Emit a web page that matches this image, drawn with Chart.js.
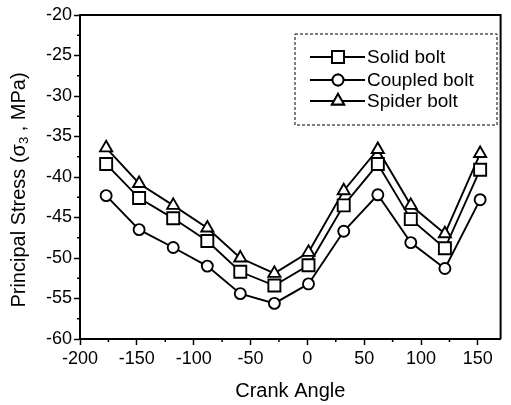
<!DOCTYPE html>
<html>
<head>
<meta charset="utf-8">
<script src="https://cdn.jsdelivr.net/npm/chart.js@4"></script>
<style>
  html, body { margin: 0; padding: 0; background: #fff; }
  #chartContainer { width: 511px; height: 405px; }
</style>
</head>
<body>
<div id="chartContainer"><canvas id="chartData"></canvas></div>
<script>
// data
const crankAngles = [-177, -148, -118, -88, -59, -29, 1, 32, 62, 91, 121, 152];
const solidBolt   = [-38.4, -42.6, -45.1, -47.9, -51.7, -53.4, -50.9, -43.5, -38.4, -45.2, -48.8, -39.1];
const coupledBolt = [-42.3, -46.5, -48.7, -51.0, -54.4, -55.6, -53.2, -46.7, -42.2, -48.1, -51.3, -42.8];
const spiderBolt  = [-36.4, -40.8, -43.5, -46.3, -50.0, -51.9, -49.3, -41.7, -36.6, -43.5, -47.0, -37.1];
const seriesNames = ['Solid bolt', 'Coupled bolt', 'Spider bolt'];
const xTicks = [-200, -150, -100, -50, 0, 50, 100, 150];
const yTicks = [-60, -55, -50, -45, -40, -35, -30, -25, -20];
const xMinorTicks = [-175, -125, -75, -25, 25, 75, 125];
const yMinorTicks = [-57.5, -52.5, -47.5, -42.5, -37.5, -32.5, -27.5, -22.5];

const FONT = '"Liberation Sans", Arial, Helvetica, sans-serif';
const LW = 1.9;
const markers = [
  { style: 'rect', radius: 8.5 },
  { style: 'circle', radius: 5.5 },
  { style: 'triangle', radius: 7 },
];

const toPoints = ys => crankAngles.map((x, i) => ({ x: x, y: ys[i] }));

const makeSet = (label, ys, m) => ({
  label: label,
  data: toPoints(ys),
  borderColor: '#000',
  borderWidth: LW,
  pointStyle: m.style,
  pointRadius: m.radius,
  pointHoverRadius: m.radius,
  pointBackgroundColor: '#fff',
  pointBorderColor: '#000',
  pointBorderWidth: LW,
  fill: false,
  tension: 0,
});

// frame, minor ticks, y title, legend
const extras = {
  id: 'extras',
  afterDraw(chart) {
    const ctx = chart.ctx;
    const a = chart.chartArea;
    const xs = chart.scales.x, ys = chart.scales.y;
    ctx.save();
    ctx.strokeStyle = '#000';

    // top/right frame
    ctx.lineWidth = 2;
    ctx.beginPath();
    ctx.moveTo(a.left, a.top);
    ctx.lineTo(a.right, a.top);
    ctx.lineTo(a.right, a.bottom);
    ctx.stroke();

    // minor ticks
    ctx.lineWidth = 1.5;
    ctx.beginPath();
    xMinorTicks.forEach(v => {
      const px = xs.getPixelForValue(v);
      ctx.moveTo(px, a.bottom);
      ctx.lineTo(px, a.bottom + 3);
    });
    yMinorTicks.forEach(v => {
      const py = ys.getPixelForValue(v);
      ctx.moveTo(a.left, py);
      ctx.lineTo(a.left - 3, py);
    });
    ctx.stroke();

    // y axis title with subscript
    ctx.fillStyle = '#000';
    ctx.translate(19, 190);
    ctx.rotate(-Math.PI / 2);
    ctx.textBaseline = 'middle';
    ctx.textAlign = 'left';
    const p1 = 'Principal Stress (\u03c3', p2 = '3', p3 = ' , MPa)';
    ctx.font = '20px ' + FONT;
    const w1 = ctx.measureText(p1).width, w3 = ctx.measureText(p3).width;
    ctx.font = '13px ' + FONT;
    const w2 = ctx.measureText(p2).width;
    let x0 = -(w1 + w2 + w3) / 2;
    ctx.font = '20px ' + FONT;
    ctx.fillText(p1, x0, 0);
    ctx.font = '13px ' + FONT;
    ctx.fillText(p2, x0 + w1, 5);
    ctx.font = '20px ' + FONT;
    ctx.fillText(p3, x0 + w1 + w2, 0);
    ctx.setTransform(1, 0, 0, 1, 0, 0);

    // legend
    const box = { left: 295, top: 34, right: 497, bottom: 125 };
    ctx.lineWidth = 1;
    ctx.setLineDash([3, 2]);
    ctx.strokeRect(box.left, box.top, box.right - box.left, box.bottom - box.top);
    ctx.setLineDash([]);
    const rows = [57, 80, 101];
    chart.data.datasets.forEach((ds, i) => {
      const y = rows[i];
      ctx.lineWidth = LW;
      ctx.beginPath();
      ctx.moveTo(310, y);
      ctx.lineTo(365, y);
      ctx.stroke();
      ctx.fillStyle = '#fff';
      Chart.helpers.drawPoint(ctx, {
        pointStyle: ds.pointStyle,
        radius: ds.pointRadius,
        borderWidth: LW,
      }, 338, y);
      ctx.fill();
      ctx.stroke();
      ctx.fillStyle = '#000';
      ctx.font = '19px ' + FONT;
      ctx.textAlign = 'left';
      ctx.textBaseline = 'middle';
      ctx.fillText(ds.label, 367, y + 1);
    });
    ctx.restore();
  }
};

new Chart(document.getElementById('chartData'), {
  type: 'line',
  data: {
    datasets: [
      makeSet(seriesNames[0], solidBolt, markers[0]),
      makeSet(seriesNames[1], coupledBolt, markers[1]),
      makeSet(seriesNames[2], spiderBolt, markers[2]),
    ],
  },
  options: {
    responsive: true,
    maintainAspectRatio: false,
    animation: false,
    events: [],
    layout: { padding: { top: 15, right: 3, left: 0, bottom: 0 } },
    plugins: { legend: { display: false }, tooltip: { enabled: false } },
    scales: {
      x: {
        type: 'linear',
        min: -200,
        max: 170,
        afterBuildTicks: s => { s.ticks = xTicks.map(v => ({ value: v })); },
        afterFit: s => { s.height = 66; },
        border: { display: true, color: '#000', width: 2 },
        grid: { drawOnChartArea: false, drawTicks: true, tickLength: 6, tickWidth: 1.5, tickColor: '#000' },
        ticks: { color: '#000', font: { family: FONT, size: 18 }, padding: 3, maxRotation: 0 },
        title: {
          display: true,
          text: 'Crank Angle',
          color: '#000',
          font: { family: FONT, size: 20 },
          padding: { top: 0, bottom: 2 },
        },
      },
      y: {
        type: 'linear',
        min: -60,
        max: -20,
        afterBuildTicks: s => { s.ticks = yTicks.map(v => ({ value: v })); },
        afterFit: s => { s.width = 80; },
        border: { display: true, color: '#000', width: 2 },
        grid: { drawOnChartArea: false, drawTicks: true, tickLength: 6, tickWidth: 1.5, tickColor: '#000' },
        ticks: { color: '#000', font: { family: FONT, size: 18 }, padding: 2 },
      },
    },
  },
  plugins: [extras],
});
</script>
</body>
</html>
